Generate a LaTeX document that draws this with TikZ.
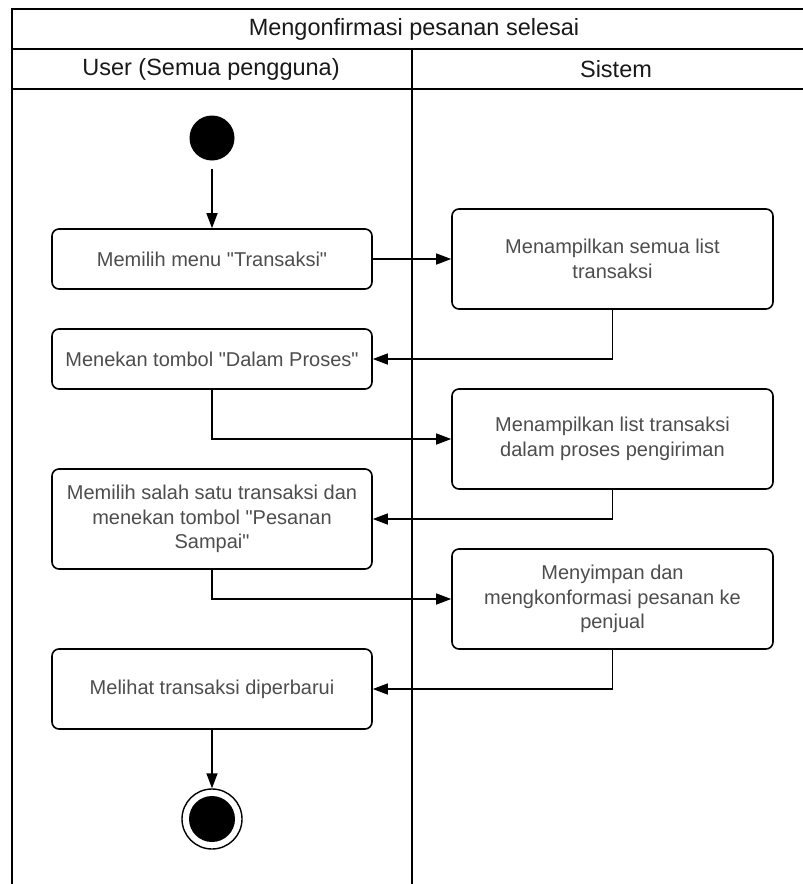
\documentclass[tikz,border=0pt]{standalone}
\usepackage{fontspec}
\setmainfont{Liberation Sans}
\usetikzlibrary{arrows.meta}
\definecolor{txtgray}{HTML}{4D4D4D}
\newcommand{\qq}{\textquotedbl}
\tikzset{
  lane/.style={line width=1.8pt, draw=black},
  header/.style={font=\fontsize{23.5}{28}\selectfont, text=black!90, inner sep=0pt},
  act/.style={draw=black, line width=1.6pt, rounded corners=7pt, fill=white,
    minimum width=320pt, align=center, inner sep=2pt,
    font=\fontsize{20}{24.5}\selectfont, text=txtgray},
  flow/.style={line width=1.5pt, -{Triangle[length=15pt,width=11pt]}},
  startnode/.style={circle, fill=black, minimum size=45pt, inner sep=0pt},
  endring/.style={circle, draw=black, line width=1.4pt, fill=white, minimum size=60pt, inner sep=0pt},
  enddot/.style={circle, fill=black, minimum size=46pt, inner sep=0pt}
}
\begin{document}
\begin{tikzpicture}[x=1pt,y=-1pt]
\useasboundingbox (0,0) rectangle (803,884);
\fill[white] (0,0) rectangle (803,884);
\begin{scope}
\clip (0,0) rectangle (803,884);
% swimlane frame: title row, lane headers, lane divider
\draw[lane] (12,900) -- (12,9) -- (840,9);
\draw[lane] (12,49) -- (840,49);
\draw[lane] (12,89) -- (840,89);
\draw[lane] (412,49) -- (412,900);
\end{scope}
\node[header] (title) at (414,29) {Mengonfirmasi pesanan selesai};
\node[header] (huser) at (211,69) {User (Semua pengguna)};
\node[header] (hsys) at (616,69) {Sistem};

% user lane
\node[startnode] (start) at (212,138) {};
\node[act, minimum height=60pt] (a1) at (212,259) {Memilih menu \qq Transaksi\qq};
\node[act, minimum height=60pt] (a2) at (212,359) {Menekan tombol \qq Dalam Proses\qq};
\node[act, minimum height=100pt] (a3) at (212,519) {Memilih salah satu transaksi dan\\menekan tombol \qq Pesanan\\Sampai\qq};
\node[act, minimum height=80pt] (a4) at (212,689) {Melihat transaksi diperbarui};
\node[endring] (endo) at (212,819) {};
\node[enddot] (endi) at (212,819) {};

% system lane
\node[act, minimum height=100pt, minimum width=321pt] (s1) at (612.5,259) {Menampilkan semua list\\transaksi};
\node[act, minimum height=100pt, minimum width=321pt] (s2) at (612.5,439) {Menampilkan list transaksi\\dalam proses pengiriman};
\node[act, minimum height=100pt, minimum width=321pt] (s3) at (612.5,599) {Menyimpan dan\\mengkonformasi pesanan ke\\penjual};

% control flow
\draw[flow, shorten <=8pt] (start) -- (a1);
\draw[flow] (a1) -- (s1);
\draw[flow] (s1.south) |- (a2.east);
\draw[flow] (a2.south) |- (s2.west);
\draw[flow] (s2.south) |- (a3.east);
\draw[flow] (a3.south) |- (s3.west);
\draw[flow] (s3.south) |- (a4.east);
\draw[flow] (a4) -- (endo);
\end{tikzpicture}
\end{document}
